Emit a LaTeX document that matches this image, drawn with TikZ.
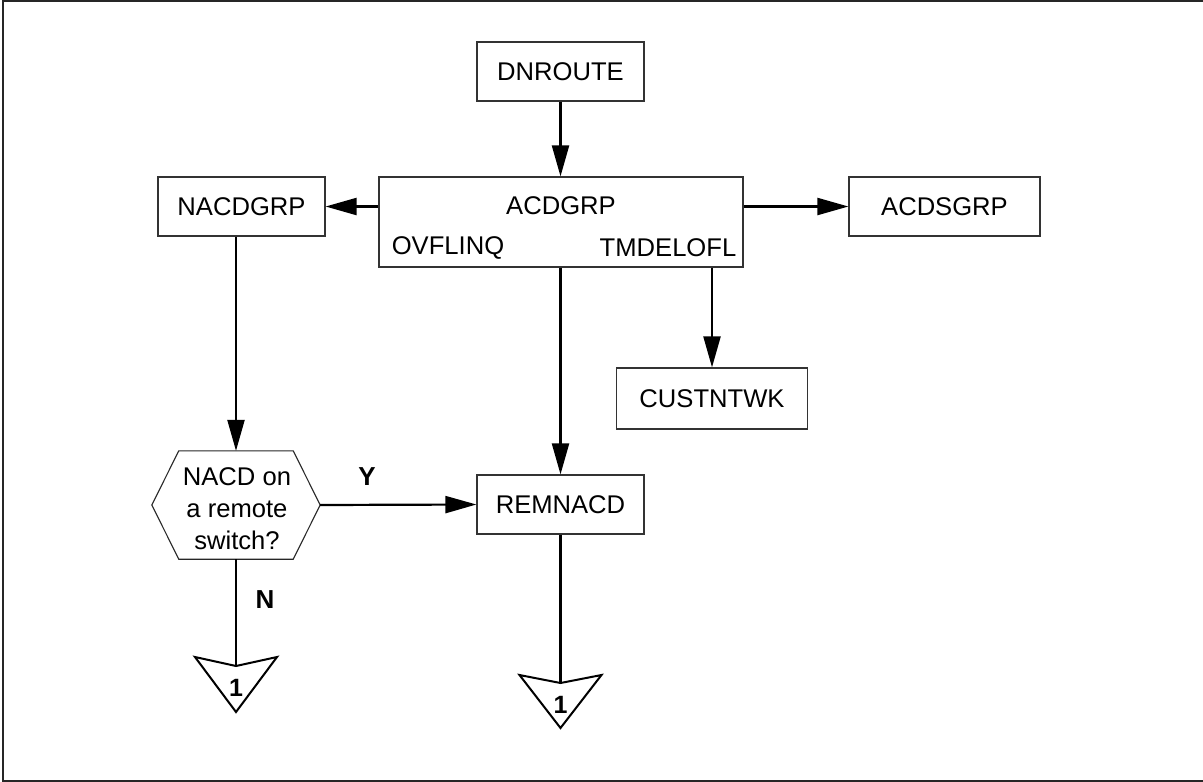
\documentclass[tikz,border=0pt]{standalone}
\usepackage{fontspec}
\setmainfont{Liberation Sans}
\usetikzlibrary{arrows.meta}
\begin{document}
\begin{tikzpicture}[x=1pt,y=-1pt,
  txt/.style={inner sep=0pt, font=\fontsize{25.6}{32}\selectfont},
  box/.style={draw=black!80, line width=1.2pt, minimum height=59pt, inner sep=0pt, font=\fontsize{25.6}{32}\selectfont},
  conn/.style={line width=2.2pt, -{Triangle[length=31pt,width=17pt]}},
  plain/.style={line width=2.2pt},
  offpage/.style={line width=2pt, line join=miter},
  lbl/.style={inner sep=0pt, font=\fontsize{26}{30}\selectfont\bfseries},
  numlbl/.style={inner sep=0pt, font=\fontsize{25}{28}\selectfont\bfseries}]
\useasboundingbox (0,0) rectangle (1203,782);
\draw[line width=1.8pt, black!85] (1203,1) -- (3,1) -- (3,781) -- (1203,781);

% boxes
\node[box, minimum width=167pt] (dnroute) at (560.5,71.5) {DNROUTE};
\node[box, minimum width=364pt, minimum height=90pt] (acdgrp) at (561,222) {};
\node[txt] (acdgrpname) at (561,206) {ACDGRP};
\node[txt] (ovflinq) at (448,248) {OVFLINQ};
\node[txt] (tmdelofl) at (668,248) {TMDELOFL};
\node[box, minimum width=167pt] (nacdgrp) at (241.5,206.5) {NACDGRP};
\node[box, minimum width=191pt] (acdsgrp) at (944.5,206.5) {ACDSGRP};
\node[box, minimum width=191pt, minimum height=61pt] (custntwk) at (712,398.5) {CUSTNTWK};
\node[box, minimum width=167pt] (remnacd) at (560.5,504.5) {REMNACD};

% decision hexagon
\node[minimum width=168pt, minimum height=108pt, inner sep=0pt] (dec) at (236,505) {};
\draw[line width=1.1pt, black!85] (dec.west) -- ([xshift=27pt]dec.north west) -- ([xshift=-27pt]dec.north east)
  -- (dec.east) -- ([xshift=-27pt]dec.south east) -- ([xshift=27pt]dec.south west) -- cycle;
\node[txt, align=center] (dectxt) at (237,509) {NACD on\\a remote\\switch?};

% off-page connectors
\coordinate (off1) at (236,666);
\coordinate (off2) at (560.5,683);
\draw[offpage] (off1) -- ++(-41,-9) -- ++(41,55) -- ++(41,-55) -- cycle;
\draw[offpage] (off2) -- ++(-41,-8) -- ++(41,53) -- ++(41,-53) -- cycle;
\node[numlbl] (one1) at ([yshift=-22pt]off1) {1};
\node[numlbl] (one2) at ([yshift=-22pt]off2) {1};

% connectors
\draw[conn] (dnroute.south) -- (dnroute.south |- acdgrp.north);
\draw[conn] (acdgrp.west |- nacdgrp.east) -- (nacdgrp.east);
\draw[conn] (acdgrp.east |- acdsgrp.west) -- (acdsgrp.west);
\draw[conn] (acdgrp.south -| remnacd.north) -- (remnacd.north);
\draw[conn] (acdgrp.south -| custntwk.north) -- (custntwk.north);
\draw[conn] ([xshift=-5.5pt]nacdgrp.south) -- ([xshift=-5.5pt]nacdgrp.south |- dec.north);
\draw[conn] (dec.east) -- (remnacd.west);
\draw[plain] (dec.south) -- (off1);
\draw[plain] (remnacd.south) -- (off2);

% branch labels
\node[lbl] (ylbl) at (367,477) {Y};
\node[lbl] (nlbl) at (265,600) {N};
\end{tikzpicture}
\end{document}
